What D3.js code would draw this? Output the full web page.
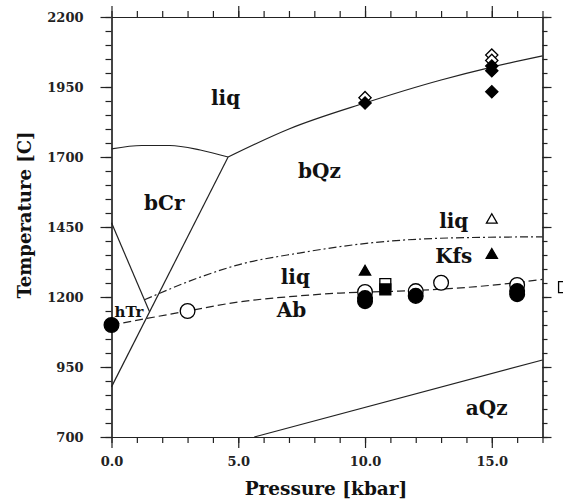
<!DOCTYPE html>
<html>
<head>
<meta charset="utf-8">
<script src="https://cdn.jsdelivr.net/npm/d3@7"></script>
<style>
  body { margin: 0; background: #fff; }
  svg { display: block; font-family: "DejaVu Serif", serif; font-weight: bold; }
</style>
</head>
<body>
<div id="chart"></div>
<script>
// axis ticks
const pressureTicks = [0, 5, 10, 15];
const pressureMinor = d3.range(0, 18, 1);
const tempTicks = [700, 950, 1200, 1450, 1700, 1950, 2200];
const tempMinor = d3.range(700, 2201, 50);

// phase boundaries [P kbar, T C]
const liqQz = [[4.6, 1700], [7, 1800], [10, 1893], [13, 1975], [15, 2021], [17, 2061]];
const liqCr = [[0, 1729], [1.2, 1741], [2.3, 1741], [3.5, 1725], [4.6, 1700]];
const crQz = [[0, 879], [4.6, 1700]];
const crTr = [[0, 1465], [1.5, 1147]];
const qzQz = [[5.63, 700], [17, 975]];
const liqKfs = [[1.3, 1190], [3.5, 1271], [5, 1315], [7.4, 1357], [10.3, 1394], [13.4, 1411], [17, 1415]];
const liqAb = [[0, 1100], [3, 1150], [5, 1182], [7.4, 1204], [9, 1214], [11, 1220], [13, 1228], [15, 1242], [17, 1263]];

// experiments
const openCircles = [[3, 1150], [10, 1218], [12, 1221], [13, 1251], [16, 1243]];
const filledCircles = [[0, 1100], [10, 1196], [10, 1185], [12, 1204], [16, 1221], [16, 1210]];
const openSquares = [[10.8, 1246], [17.85, 1235]];
const filledSquares = [[10.8, 1227]];
const openTriangles = [[15, 1475]];
const filledTriangles = [[10, 1290], [15, 1350]];
const openDiamonds = [[10, 1912], [15, 2064], [15, 2045]];
const filledDiamonds = [[10, 1893], [15, 2025], [15, 2008], [15, 1933]];

// field labels
const fieldLabels = [
  { text: "liq", P: 4.5, T: 1885, size: 20 },
  { text: "bQz", P: 8.2, T: 1625, size: 20 },
  { text: "bCr", P: 2.08, T: 1510, size: 20 },
  { text: "liq", P: 13.5, T: 1445, size: 20 },
  { text: "Kfs", P: 13.5, T: 1320, size: 20 },
  { text: "liq", P: 7.25, T: 1245, size: 20 },
  { text: "Ab", P: 7.1, T: 1130, size: 20 },
  { text: "aQz", P: 14.8, T: 780, size: 20 },
];

const width = 563;
const height = 502;

const svg = d3.select("#chart")
  .append("svg")
  .attr("width", width)
  .attr("height", height);

svg.append("rect").attr("width", width).attr("height", height).attr("fill", "#fff");

const x = d3.scaleLinear().domain([0, 17]).range([111.5, 542.5]);
const y = d3.scaleLinear().domain([700, 2200]).range([437, 17]);

// axes: minor ticks first, then major with labels
function styleAxis(g) {
  g.selectAll("path, line").attr("stroke", "#222").attr("stroke-width", 1.2);
  g.selectAll("text").attr("fill", "#222").attr("font-family", "DejaVu Serif").attr("font-weight", "bold");
}

svg.append("g").attr("transform", `translate(0,${y(700)})`)
  .call(d3.axisBottom(x).tickValues(pressureMinor).tickSize(6).tickSizeOuter(0).tickFormat(""))
  .call(styleAxis);
svg.append("g").attr("transform", `translate(0,${y(700)})`)
  .call(d3.axisBottom(x).tickValues(pressureTicks).tickSize(11).tickSizeOuter(0).tickPadding(9).tickFormat(d3.format(".1f")))
  .attr("font-size", 13)
  .call(styleAxis);

svg.append("g").attr("transform", `translate(0,${y(2200)})`)
  .call(d3.axisTop(x).tickValues(pressureMinor).tickSize(6).tickSizeOuter(0).tickFormat(""))
  .call(styleAxis);
svg.append("g").attr("transform", `translate(0,${y(2200)})`)
  .call(d3.axisTop(x).tickValues(pressureTicks).tickSize(11).tickSizeOuter(0).tickFormat(""))
  .call(styleAxis);

svg.append("g").attr("transform", `translate(${x(0)},0)`)
  .call(d3.axisLeft(y).tickValues(tempMinor).tickSize(6).tickSizeOuter(0).tickFormat(""))
  .call(styleAxis);
svg.append("g").attr("transform", `translate(${x(0)},0)`)
  .call(d3.axisLeft(y).tickValues(tempTicks).tickSize(11).tickSizeOuter(0).tickPadding(17).tickFormat(d3.format("d")))
  .attr("font-size", 13)
  .call(styleAxis);

svg.append("g").attr("transform", `translate(${x(17)},0)`)
  .call(d3.axisRight(y).tickValues(tempMinor).tickSize(5).tickSizeOuter(0).tickFormat(""))
  .call(styleAxis);
svg.append("g").attr("transform", `translate(${x(17)},0)`)
  .call(d3.axisRight(y).tickValues(tempTicks).tickSize(9).tickSizeOuter(0).tickFormat(""))
  .call(styleAxis);

// boundaries
const line = d3.line().x((d) => x(d[0])).y((d) => y(d[1])).curve(d3.curveMonotoneX);

function boundary(data, dash) {
  svg.append("path")
    .datum(data)
    .attr("d", line)
    .attr("fill", "none")
    .attr("stroke", "#222")
    .attr("stroke-width", 1.2)
    .attr("stroke-dasharray", dash || null);
}

boundary(liqQz);
boundary(liqCr);
boundary(crQz);
boundary(crTr);
boundary(qzQz);
boundary(liqKfs, "8,3,2,3");
boundary(liqAb, "8,4");

// markers
function markers(data, type, size, filled, rotate) {
  const sym = d3.symbol().type(type).size(size);
  svg.append("g")
    .selectAll("path")
    .data(data)
    .enter()
    .append("path")
    .attr("d", sym)
    .attr("transform", (d) => `translate(${x(d[0])},${y(d[1])})${rotate ? " rotate(45)" : ""}`)
    .attr("fill", filled ? "#000" : "#fff")
    .attr("stroke", "#000")
    .attr("stroke-width", 1.3);
}

markers(openCircles, d3.symbolCircle, 170, false);
markers(filledCircles, d3.symbolCircle, 170, true);
markers(openSquares, d3.symbolSquare, 120, false);
markers(filledSquares, d3.symbolSquare, 120, true);
markers(openTriangles, d3.symbolTriangle, 50, false);
markers(filledTriangles, d3.symbolTriangle, 55, true);
markers(openDiamonds, d3.symbolSquare, 75, false, true);
markers(filledDiamonds, d3.symbolSquare, 75, true, true);

// field labels
svg.append("g")
  .selectAll("text")
  .data(fieldLabels)
  .enter()
  .append("text")
  .attr("x", (d) => x(d.P))
  .attr("y", (d) => y(d.T))
  .attr("text-anchor", "middle")
  .attr("font-size", (d) => d.size)
  .attr("fill", "#111")
  .text((d) => d.text);

svg.append("text")
  .attr("x", x(0) + 3)
  .attr("y", y(1130))
  .attr("font-size", 15)
  .attr("fill", "#111")
  .text("hTr");

// axis titles
svg.append("text")
  .attr("x", 326)
  .attr("y", 495)
  .attr("text-anchor", "middle")
  .attr("font-size", 18.5)
  .attr("fill", "#111")
  .text("Pressure [kbar]");

svg.append("text")
  .attr("transform", "translate(31,215) rotate(-90)")
  .attr("text-anchor", "middle")
  .attr("font-size", 18)
  .attr("fill", "#111")
  .text("Temperature [C]");
</script>
</body>
</html>
